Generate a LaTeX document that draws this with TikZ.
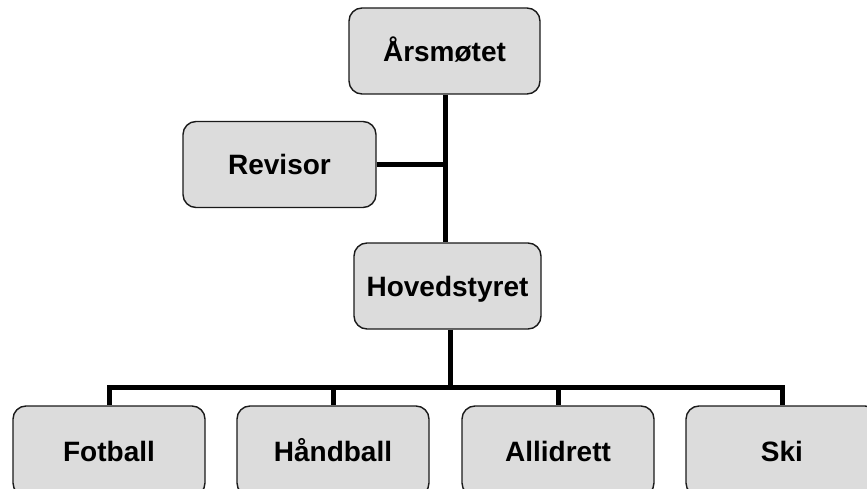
\documentclass[tikz,border=0pt]{standalone}
\usepackage{fontspec}
\setmainfont{Liberation Sans}
\definecolor{boxfill}{HTML}{DCDCDC}
\definecolor{boxline}{HTML}{1A1A1A}
\tikzset{
  orgbox/.style={draw=boxline, line width=1.4pt, fill=boxfill, rounded corners=13pt,
    minimum height=86pt, inner sep=0pt, text height=21pt, text depth=0pt,
    font=\fontsize{28}{33}\selectfont\bfseries},
  link/.style={line width=5pt, black}
}
\begin{document}
\begin{tikzpicture}[x=1pt,y=-1pt]
\useasboundingbox (0,0) rectangle (867,489);
\begin{scope}
\clip (0,0) rectangle (867,489);
\node[orgbox, minimum width=191pt] (aars) at (444.5,51) {Årsmøtet};
\node[orgbox, minimum width=193pt] (rev) at (279.5,164.5) {Revisor};
\node[orgbox, minimum width=187pt] (hoved) at (447.5,286) {Hovedstyret};
\node[orgbox, minimum width=192pt, minimum height=90pt] (fot) at (109,451) {Fotball};
\node[orgbox, minimum width=192pt, minimum height=90pt] (hand) at (333,451) {Håndball};
\node[orgbox, minimum width=192pt, minimum height=90pt] (alli) at (558,451) {Allidrett};
\node[orgbox, minimum width=192pt, minimum height=90pt] (ski) at (782,451) {Ski};
\coordinate (busL) at (109,387.5);
\coordinate (busR) at (782,387.5);
\coordinate (top) at (445,51);
\coordinate (bot) at (450,286);
\draw[link] (aars.south -| top) -- (hoved.north -| top);
\draw[link] (rev.east) -- (rev.east -| top);
\draw[link] (hoved.south -| bot) -- (busL -| bot);
\draw[link, line cap=rect] (busL) -- (busR);
\draw[link] (busL) -- (fot.north);
\draw[link] (busL -| hand.north) -- (hand.north);
\draw[link] (busL -| alli.north) -- (alli.north);
\draw[link] (busR) -- (ski.north);
\end{scope}
\end{tikzpicture}
\end{document}
